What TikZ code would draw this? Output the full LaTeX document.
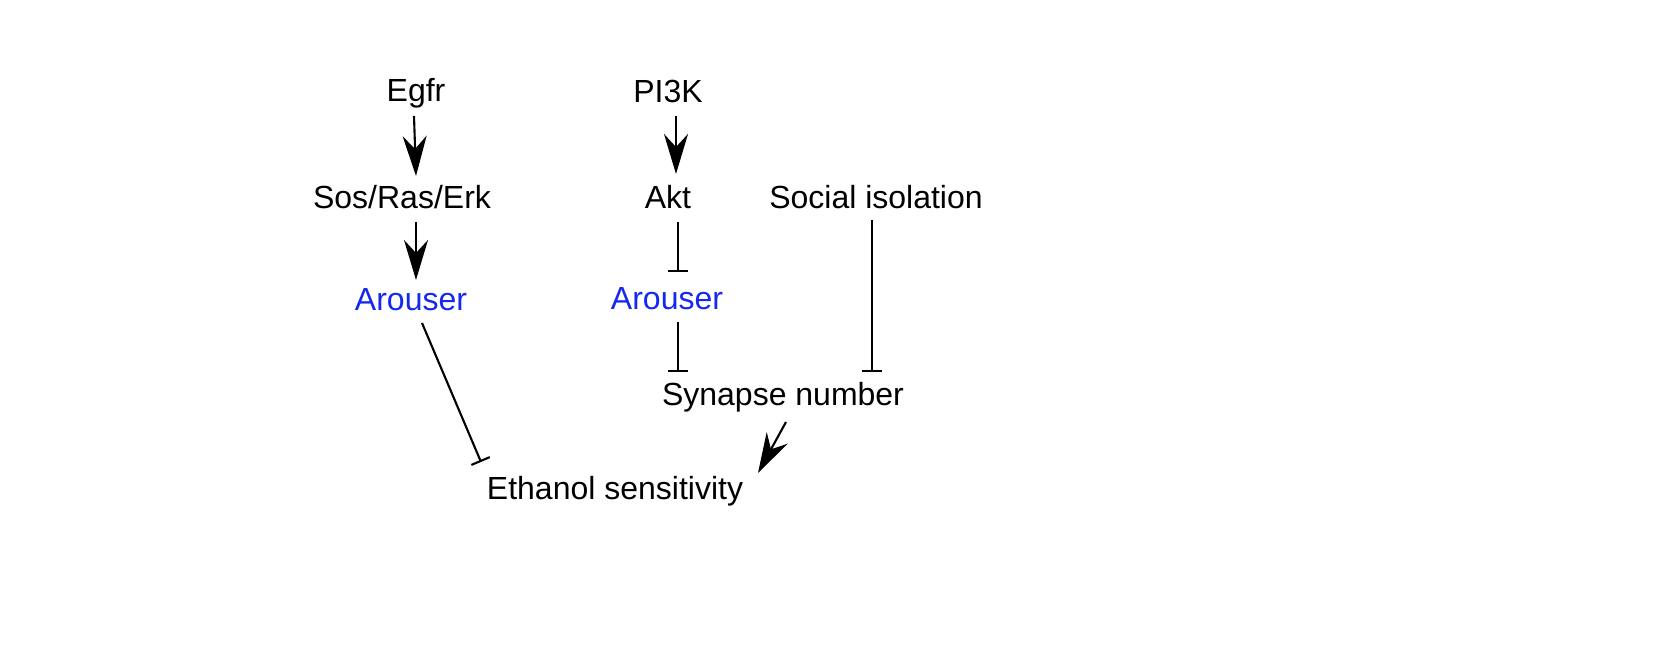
\documentclass[tikz,border=0pt]{standalone}
\usepackage{fontspec}
\setmainfont{Liberation Sans}
\usetikzlibrary{arrows.meta}
\definecolor{ablue}{RGB}{20,40,240}
\begin{document}
\begin{tikzpicture}[x=0.01cm,y=-0.01cm,
  lab/.style={font=\fontsize{9.1}{11}\selectfont,inner sep=0pt},
  act/.style={line width=0.6pt,-{Stealth[length=0.4cm,width=0.24cm,inset=0.13cm]}},
  inh/.style={line width=0.6pt,-{Bar[width=0.2cm]}}]
\useasboundingbox (0,0) rectangle (1653,665);
\node[lab] (egfr) at (416,93) {Egfr};
\node[lab] (sos) at (402,197) {Sos/Ras/Erk};
\node[lab,text=ablue] (ar1) at (411,300) {Arouser};
\node[lab] (pi3k) at (668,91) {PI3K};
\node[lab] (akt) at (668,197) {Akt};
\node[lab] (soc) at (876,197) {Social isolation};
\node[lab,text=ablue] (ar2) at (667,299) {Arouser};
\node[lab] (syn) at (783,397) {Synapse number};
\node[lab] (eth) at (615,491) {Ethanol sensitivity};
\coordinate (a1) at (414,116); \coordinate (a2) at (416,176);
\draw[act] (a1) -- (a2);
\coordinate (b1) at (416,222); \coordinate (b2) at (416,280);
\draw[act] (b1) -- (b2);
\coordinate (c1) at (676,116); \coordinate (c2) at (676,174);
\draw[act] (c1) -- (c2);
\coordinate (d1) at (678,222); \coordinate (d2) at (678,272);
\draw[inh] (d1) -- (d2);
\coordinate (e1) at (678,322); \coordinate (e2) at (678,372);
\draw[inh] (e1) -- (e2);
\coordinate (f1) at (872,220); \coordinate (f2) at (872,372);
\draw[inh] (f1) -- (f2);
\coordinate (g1) at (422,323); \coordinate (g2) at (481,462);
\draw[inh] (g1) -- (g2);
\coordinate (h1) at (786,422); \coordinate (h2) at (758,473);
\draw[act] (h1) -- (h2);
\end{tikzpicture}
\end{document}
